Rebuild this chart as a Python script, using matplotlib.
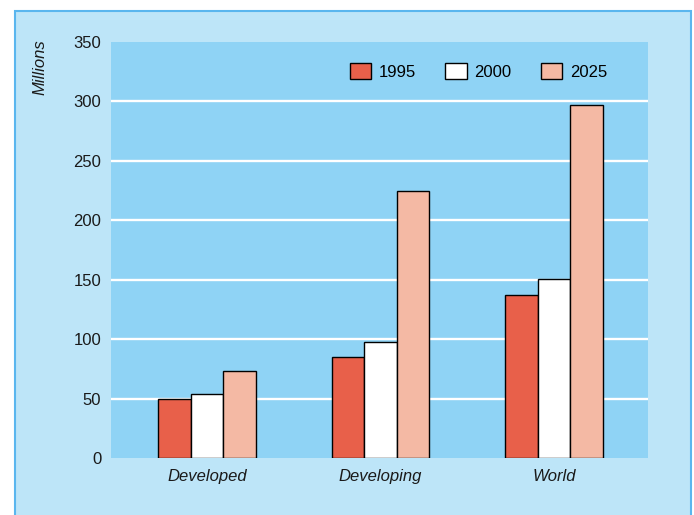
import matplotlib.pyplot as plt
import numpy as np
from matplotlib.patches import Rectangle

plt.rcParams['font.family'] = ['Liberation Sans', 'DejaVu Sans']

regions = ['Developed', 'Developing', 'World']
years = ['1995', '2000', '2025']
vals_1995 = [49.5, 85, 137.5]
vals_2000 = [54, 97.5, 151]
vals_2025 = [73.5, 225, 297]
y_ticks = [0, 50, 100, 150, 200, 250, 300, 350]

outer_bg = '#bde5f8'
plot_bg = '#8fd3f5'
colors = ['#e8604a', '#ffffff', '#f4b9a4']

fig = plt.figure(figsize=(6.94, 5.15), dpi=100)
fig.patch.set_facecolor('white')
# outer box with blue border
fig.patches.append(Rectangle((15 / 694, -0.01), 676 / 694, 1 - 11 / 515 + 0.01,
                             transform=fig.transFigure, facecolor=outer_bg,
                             edgecolor='#5ab6ee', linewidth=1.5, zorder=-1))

ax = fig.add_axes([111 / 694, 1 - 458 / 515, 537 / 694, 416 / 515])
ax.set_facecolor(plot_bg)

x = np.arange(len(regions))
w = 0.188
for i, (vals, c) in enumerate(zip([vals_1995, vals_2000, vals_2025], colors)):
    ax.bar(x + (i - 1) * w, vals, width=w, color=c, edgecolor='black',
           linewidth=1, label=years[i], zorder=3)

ax.set_xlim(-0.553, 2.542)
ax.set_ylim(0, 350)
ax.set_yticks(y_ticks)
ax.set_yticklabels([str(v) for v in y_ticks])
ax.set_xticks(x)
ax.set_xticklabels(regions, style='italic')
ax.tick_params(length=0, labelsize=12, colors='#1a1a1a')
ax.tick_params(axis='y', pad=7)
ax.tick_params(axis='x', pad=8)
for v in y_ticks[1:-1]:
    ax.axhline(v, color='white', linewidth=1.7, zorder=1)
for s in ax.spines.values():
    s.set_visible(False)

fig.text(40 / 694, 1 - 67 / 515, 'Millions', rotation=90, style='italic',
         fontsize=12, ha='center', va='center', color='#1a1a1a')

ax.legend(loc='upper right', bbox_to_anchor=(0.952, 0.985), ncol=3, frameon=False,
          fontsize=12, handlelength=1.3, handleheight=1.1, columnspacing=1.75,
          handletextpad=0.45)

fig.savefig('out.png', dpi=100, facecolor=fig.get_facecolor())
